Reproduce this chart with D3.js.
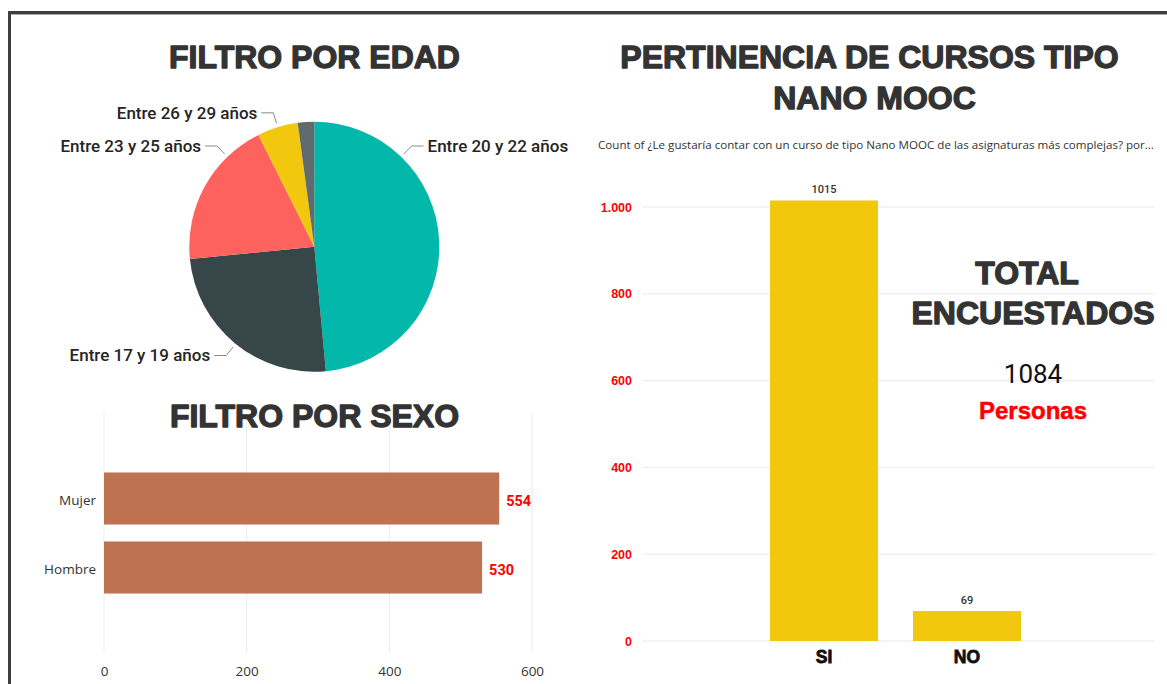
<!DOCTYPE html>
<html>
<head>
<meta charset="utf-8">
<script src="https://cdn.jsdelivr.net/npm/d3@7"></script>
<style>
  html, body { margin: 0; padding: 0; background: #fff; }
  svg { display: block; }
</style>
</head>
<body>
<svg id="dash" width="1167" height="684"></svg>
<script>
// ---- Data -------------------------------------------------------------
const ageGroups = ["Entre 20 y 22 años", "Entre 17 y 19 años", "Entre 23 y 25 años", "Entre 26 y 29 años", "Entre 30 años o más"];
const ageCounts = [526, 270, 208, 57, 23];
const ageColors = ["#01B8AA", "#374649", "#FD625E", "#F2C80F", "#5F6B6D"];

const sexCategories = ["Mujer", "Hombre"];
const sexCounts = [554, 530];
const sexTicks = [0, 200, 400, 600];

const answerCategories = ["SI", "NO"];
const answerCounts = [1015, 69];
const answerTicks = [0, 200, 400, 600, 800, 1000];

const totalRespondents = 1084;

// ---- Layout -----------------------------------------------------------
const svg = d3.select("#dash");
const titleFont = "'Liberation Sans', Arial, sans-serif";
const dinFont = "Roboto, 'DejaVu Sans', sans-serif";
const uiFont = "'Open Sans', 'Noto Sans', sans-serif";
const titleColor = "#333333";

// page frame (top and left edges)
svg.append("rect").attr("x", 8).attr("y", 11).attr("width", 1159).attr("height", 3).attr("fill", "#3d3f40");
svg.append("rect").attr("x", 8).attr("y", 14).attr("width", 1159).attr("height", 1).attr("fill", "#a9abac");
svg.append("rect").attr("x", 8).attr("y", 11).attr("width", 3).attr("height", 673).attr("fill", "#3d3f40");

function title(text, x, y, size) {
  svg.append("text")
    .attr("x", x).attr("y", y)
    .attr("text-anchor", "middle")
    .style("font-family", titleFont)
    .style("font-weight", "bold")
    .style("font-size", size + "px")
    .attr("fill", titleColor)
    .attr("stroke", titleColor)
    .attr("stroke-width", 1.3)
    .attr("stroke-linejoin", "round")
    .text(text);
}

// ---- FILTRO POR EDAD (pie) --------------------------------------------
title("FILTRO POR EDAD", 314.5, 68, 32);

const pieCx = 314.3, pieCy = 246.7, pieR = 125;
const gPie = svg.append("g").attr("transform", `translate(${pieCx},${pieCy})`);
const pie = d3.pie().sort(null).value(d => d.v);
const arcs = pie(ageGroups.map((g, i) => ({ g, v: ageCounts[i], c: ageColors[i] })));
const arc = d3.arc().innerRadius(0).outerRadius(pieR);

gPie.selectAll("path.slice")
  .data(arcs)
  .join("path")
  .attr("class", "slice")
  .attr("d", arc)
  .attr("fill", d => d.data.c);

// label placement angles (degrees clockwise from 12 o'clock); smallest slice is unlabeled
const labelAngle = { "Entre 20 y 22 años": 44, "Entre 17 y 19 años": 219, "Entre 23 y 25 años": 316, "Entre 26 y 29 años": 343 };
arcs.forEach(d => {
  const deg = labelAngle[d.data.g];
  if (deg === undefined) return;
  const a = deg * Math.PI / 180;
  const p0 = d3.pointRadial(a, pieR + 4);
  const p1 = d3.pointRadial(a, pieR + 15);
  const right = p1[0] > 0;
  const p2 = [p1[0] + (right ? 12 : -12), p1[1]];
  gPie.append("path")
    .attr("d", d3.line()([p0, p1, p2]))
    .attr("fill", "none")
    .attr("stroke", "#8a8a8a")
    .attr("stroke-width", 1);
  gPie.append("text")
    .attr("x", p2[0] + (right ? 4 : -4))
    .attr("y", p2[1])
    .attr("dy", "0.35em")
    .attr("text-anchor", right ? "start" : "end")
    .style("font-family", dinFont)
    .style("font-weight", 500)
    .style("font-size", "17px")
    .attr("fill", "#252423")
    .text(d.data.g);
});

// ---- FILTRO POR SEXO (horizontal bars) --------------------------------
const xSex = d3.scaleLinear().domain([0, 600]).range([104, 532]);
const ySex = d3.scaleBand().domain(sexCategories).range([456, 610]).paddingInner(0.246).paddingOuter(0.239);

const gSex = svg.append("g");
gSex.selectAll("line.grid")
  .data(sexTicks)
  .join("line")
  .attr("class", "grid")
  .attr("x1", d => xSex(d)).attr("x2", d => xSex(d))
  .attr("y1", 413).attr("y2", 652)
  .attr("stroke", "#ebebeb").attr("stroke-width", 1);

const sexAxis = gSex.append("g")
  .attr("transform", "translate(0,661)")
  .call(d3.axisBottom(xSex).tickValues(sexTicks).tickSize(0).tickPadding(5).tickFormat(d3.format("d")));
sexAxis.select(".domain").remove();
sexAxis.selectAll("text")
  .style("font-family", uiFont).style("font-size", "13.5px").attr("fill", "#333");

title("FILTRO POR SEXO", 314.5, 427, 32);

gSex.selectAll("rect.bar")
  .data(sexCategories)
  .join("rect")
  .attr("class", "bar")
  .attr("x", xSex(0))
  .attr("y", d => ySex(d))
  .attr("width", (d, i) => xSex(sexCounts[i]) - xSex(0))
  .attr("height", ySex.bandwidth())
  .attr("fill", "#BE7250");

const sexYAxis = gSex.append("g")
  .attr("transform", `translate(${xSex(0)},2)`)
  .call(d3.axisLeft(ySex).tickSize(0).tickPadding(8));
sexYAxis.select(".domain").remove();
sexYAxis.selectAll("text")
  .style("font-family", uiFont).style("font-size", "13.5px").attr("fill", "#333");

gSex.selectAll("text.val")
  .data(sexCategories)
  .join("text")
  .attr("class", "val")
  .attr("x", (d, i) => xSex(sexCounts[i]) + 7)
  .attr("y", d => ySex(d) + ySex.bandwidth() / 2 + 2)
  .attr("dy", "0.35em")
  .style("font-family", dinFont).style("font-weight", "bold").style("font-size", "14.5px")
  .attr("fill", "#ff0000")
  .text((d, i) => sexCounts[i]);

// ---- PERTINENCIA DE CURSOS TIPO NANO MOOC (columns) --------------------
title("PERTINENCIA DE CURSOS TIPO", 869.5, 68, 32);
title("NANO MOOC", 874.5, 109, 32);

svg.append("text")
  .attr("x", 598).attr("y", 145).attr("dy", "0.35em")
  .style("font-family", uiFont).style("font-size", "11.6px")
  .attr("fill", "#333")
  .text("Count of ¿Le gustaría contar con un curso de tipo Nano MOOC de las asignaturas más complejas? por...");

const yAns = d3.scaleLinear().domain([0, 1000]).range([641, 207]);
const xAns = d3.scaleBand().domain(answerCategories).range([752, 1039]).paddingInner(0.245).paddingOuter(0.126);
const esFmt = d3.formatLocale({ decimal: ",", thousands: ".", grouping: [3], currency: ["", ""] }).format(",");

const gAns = svg.append("g");
gAns.selectAll("line.grid")
  .data(answerTicks)
  .join("line")
  .attr("class", "grid")
  .attr("x1", 642).attr("x2", 1155)
  .attr("y1", d => yAns(d)).attr("y2", d => yAns(d))
  .attr("stroke", "#ebebeb").attr("stroke-width", 1);

const ansYAxis = gAns.append("g")
  .attr("transform", "translate(632,0)")
  .call(d3.axisLeft(yAns).tickValues(answerTicks).tickSize(0).tickPadding(0).tickFormat(esFmt));
ansYAxis.select(".domain").remove();
ansYAxis.selectAll("text")
  .style("font-family", titleFont).style("font-weight", "bold").style("font-size", "12.5px")
  .attr("fill", "#ff0000");

gAns.selectAll("rect.bar")
  .data(answerCategories)
  .join("rect")
  .attr("class", "bar")
  .attr("x", d => xAns(d))
  .attr("y", (d, i) => yAns(answerCounts[i]))
  .attr("width", xAns.bandwidth())
  .attr("height", (d, i) => yAns(0) - yAns(answerCounts[i]))
  .attr("fill", "#F2C80F");

gAns.selectAll("text.val")
  .data(answerCategories)
  .join("text")
  .attr("class", "val")
  .attr("x", d => xAns(d) + xAns.bandwidth() / 2)
  .attr("y", (d, i) => yAns(answerCounts[i]) - 7)
  .attr("text-anchor", "middle")
  .style("font-family", dinFont).style("font-weight", 500).style("font-size", "11px")
  .attr("fill", "#333")
  .text((d, i) => answerCounts[i]);

const ansXAxis = gAns.append("g")
  .attr("transform", `translate(0,${yAns(0)})`)
  .call(d3.axisBottom(xAns).tickSize(0).tickPadding(10));
ansXAxis.select(".domain").remove();
ansXAxis.selectAll("text")
  .style("font-family", titleFont).style("font-weight", "bold").style("font-size", "17.5px")
  .attr("fill", "#111").attr("stroke", "#111").attr("stroke-width", 0.8);

// ---- TOTAL ENCUESTADOS card -------------------------------------------
title("TOTAL", 1027, 284, 32);
title("ENCUESTADOS", 1033, 324, 32);
svg.append("text")
  .attr("x", 1033).attr("y", 383)
  .attr("text-anchor", "middle")
  .style("font-family", dinFont).style("font-size", "26px")
  .attr("fill", "#111")
  .text(totalRespondents);
svg.append("text")
  .attr("x", 1033).attr("y", 419)
  .attr("text-anchor", "middle")
  .style("font-family", titleFont).style("font-weight", "bold").style("font-size", "24px")
  .attr("fill", "#ff0000")
  .attr("stroke", "#ff0000").attr("stroke-width", 0.5)
  .text("Personas");
</script>
</body>
</html>
